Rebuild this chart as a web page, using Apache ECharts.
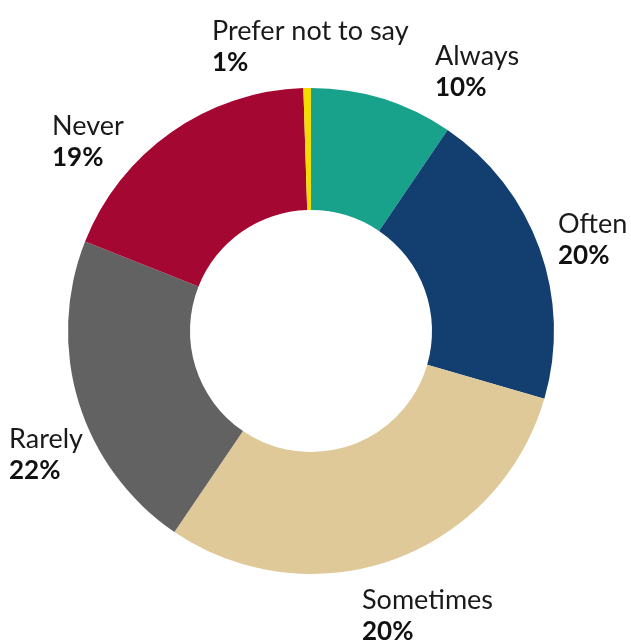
<!DOCTYPE html>
<html>
<head>
<meta charset="utf-8">
<script src="https://cdn.jsdelivr.net/npm/echarts@6/dist/echarts.min.js"></script>
<style>
html,body{margin:0;padding:0;background:#fff;}
#chart{width:631px;height:640px;}
</style>
</head>
<body>
<div id="chart"></div>
<script>
// Data
const categories = ['Always', 'Often', 'Sometimes', 'Rarely', 'Never', 'Prefer not to say'];
const values = [9.5, 20, 30, 21.5, 18.5, 0.5];
const labelTexts = ['10%', '20%', '20%', '22%', '19%', '1%'];

const colors = ['#19a28b', '#133f70', '#dfc999', '#626262', '#a50733', '#f5dc00'];
// label anchors (left, top) for the hand-placed labels
const labelAnchors = [[435, 40], [558, 208], [362, 584], [9, 423], [52, 110], [212, 15]];

const chart = echarts.init(document.getElementById('chart'), null, {renderer: 'canvas'});
chart.setOption({
  animation: false,
  series: [{
    type: 'pie',
    center: [311, 331],
    radius: [121, 243],
    startAngle: 90,
    clockwise: true,
    avoidLabelOverlap: false,
    emphasis: {disabled: true},
    itemStyle: {borderWidth: 0},
    labelLine: {show: false},
    label: {
      show: true,
      position: 'outside',
      formatter: function (p) {
        return '{n|' + p.name + '}\n{p|' + labelTexts[p.dataIndex] + '}';
      },
      rich: {
        n: {fontFamily: 'Lato', fontSize: 27, fontWeight: 'normal', color: '#1a1a1a', lineHeight: 32},
        p: {fontFamily: 'Lato', fontSize: 26, fontWeight: 'bold', color: '#111', lineHeight: 32}
      }
    },
    labelLayout: function (params) {
      const a = labelAnchors[params.dataIndex];
      return {x: a[0], y: a[1], align: 'left', verticalAlign: 'top'};
    },
    data: categories.map(function (c, i) {
      return {name: c, value: values[i], itemStyle: {color: colors[i]}};
    })
  }]
});
</script>
</body>
</html>
